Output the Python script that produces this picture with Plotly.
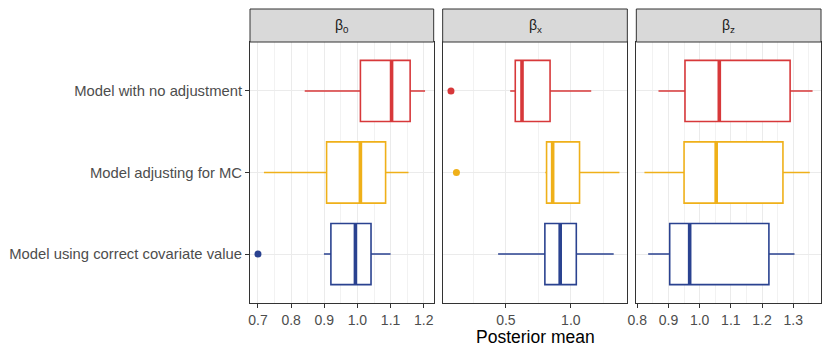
import plotly.graph_objects as go
from plotly.subplots import make_subplots

# ---------------------------------------------------------------------------
# Donnees
# ---------------------------------------------------------------------------
models = ["Model with no adjustment", "Model adjusting for MC",
          "Model using correct covariate value"]
colors = ["#D7383A", "#EFB019", "#2A4290"]
params = ["β<sub>0</sub>", "β<sub>x</sub>", "β<sub>z</sub>"]

# statistiques par parametre : une valeur par modele (meme ordre que models)
q1 = {
    "b0": [1.009, 0.907, 0.920],
    "bx": [0.572, 0.813, 0.800],
    "bz": [0.953, 0.950, 0.904],
}
median = {
    "b0": [1.103, 1.009, 0.994],
    "bx": [0.624, 0.860, 0.918],
    "bz": [1.063, 1.053, 0.968],
}
q3 = {
    "b0": [1.159, 1.085, 1.041],
    "bx": [0.840, 1.067, 1.042],
    "bz": [1.290, 1.267, 1.222],
}
lower = {
    "b0": [0.841, 0.718, 0.899],
    "bx": [0.533, 0.803, 0.440],
    "bz": [0.868, 0.823, 0.835],
}
upper = {
    "b0": [1.204, 1.154, 1.100],
    "bx": [1.157, 1.374, 1.330],
    "bz": [1.362, 1.353, 1.304],
}
# valeurs aberrantes (None = aucune)
outliers = {
    "b0": [None, None, 0.700],
    "bx": [0.077, 0.119, None],
    "bz": [None, None, None],
}

keys = ["b0", "bx", "bz"]
ypos = [3, 2, 1]
box_w = 0.75

x_ranges = [[0.676, 1.230], [0.013, 1.435], [0.797, 1.389]]
x_ticks = [[0.7, 0.8, 0.9, 1.0, 1.1, 1.2], [0.5, 1.0],
           [0.8, 0.9, 1.0, 1.1, 1.2, 1.3]]
x_ticktext = [["0.7", "0.8", "0.9", "1.0", "1.1", "1.2"], ["0.5", "1.0"],
              ["0.8", "0.9", "1.0", "1.1", "1.2", "1.3"]]
x_minor = [0.05, 0.25, 0.05]

# ---------------------------------------------------------------------------
# Figure
# ---------------------------------------------------------------------------
fig = make_subplots(rows=1, cols=3, shared_yaxes=False, horizontal_spacing=0.016)

for c, k in enumerate(keys, start=1):
    for i, m in enumerate(models):
        fig.add_trace(
            go.Box(
                y=[ypos[i]], q1=[q1[k][i]], median=[median[k][i]],
                q3=[q3[k][i]], lowerfence=[lower[k][i]],
                upperfence=[upper[k][i]],
                orientation="h", width=box_w, whiskerwidth=0,
                fillcolor="white", line=dict(color=colors[i], width=1.6),
                boxpoints=False, showlegend=False, hoverinfo="skip",
            ),
            row=1, col=c,
        )
        # mediane epaisse facon ggplot
        fig.add_trace(
            go.Scatter(
                x=[median[k][i], median[k][i]],
                y=[ypos[i] - box_w / 2, ypos[i] + box_w / 2],
                mode="lines", line=dict(color=colors[i], width=3.6),
                showlegend=False, hoverinfo="skip",
            ),
            row=1, col=c,
        )
        if outliers[k][i] is not None:
            fig.add_trace(
                go.Scatter(
                    x=[outliers[k][i]], y=[ypos[i]], mode="markers",
                    marker=dict(color=colors[i], size=7),
                    showlegend=False, hoverinfo="skip",
                ),
                row=1, col=c,
            )

# domaines en pixels : panneaux [250,434] [443,627] [637,821]
# (la page ajoute une marge de 8 px autour de la figure)
plot_w = 572
domains = [[0, 184 / plot_w], [193 / plot_w, 378 / plot_w], [387 / plot_w, 1]]

for c in range(1, 4):
    fig.update_xaxes(
        domain=domains[c - 1], range=x_ranges[c - 1],
        tickvals=x_ticks[c - 1], ticktext=x_ticktext[c - 1],
        showline=True, mirror=True, linecolor="#333333", linewidth=1,
        ticks="outside", ticklen=4, tickcolor="#333333",
        showgrid=True, gridcolor="#EBEBEB", gridwidth=1,
        minor=dict(dtick=x_minor[c - 1], tick0=0, showgrid=True,
                   gridcolor="#F2F2F2", gridwidth=0.6),
        zeroline=False, automargin=False,
        tickfont=dict(size=14, color="#4D4D4D"),
        row=1, col=c,
    )
    if c == 1:
        fig.update_yaxes(tickvals=ypos, ticktext=models, ticks="outside",
                         ticklen=4, tickcolor="#333333", row=1, col=c)
    else:
        fig.update_yaxes(tickvals=ypos, showticklabels=False, ticks="",
                         row=1, col=c)
    fig.update_yaxes(
        range=[0.4, 3.6], automargin=False,
        showline=True, mirror=True, linecolor="#333333", linewidth=1,
        showgrid=True, gridcolor="#EBEBEB", gridwidth=1, zeroline=False,
        tickfont=dict(size=14.8, color="#4D4D4D"),
        row=1, col=c,
    )

# bandeaux de facettes
strip_top = 1 + 33 / 261
for c in range(1, 4):
    xr = "x domain" if c == 1 else f"x{c} domain"
    fig.add_shape(
        type="rect", xref=xr, yref="paper", x0=0, x1=1, y0=1, y1=strip_top,
        fillcolor="#D9D9D9", line=dict(color="#333333", width=1),
    )
    fig.add_annotation(
        xref=xr, yref="paper", x=0.5, y=(1 + strip_top) / 2,
        xanchor="center", yanchor="middle",
        text=params[c - 1], showarrow=False,
        font=dict(size=14, color="#1A1A1A"),
    )

fig.add_annotation(
    xref="paper", yref="paper", x=0.5, y=-34 / 261, yanchor="middle",
    text="Posterior mean", showarrow=False,
    font=dict(size=17.5, color="black"),
)

fig.update_layout(
    width=822, height=348,
    margin=dict(l=242, r=9, t=34, b=53),
    paper_bgcolor="white", plot_bgcolor="white",
    font=dict(family="Liberation Sans, Arial, sans-serif"),
)

fig.write_html("out.html")
